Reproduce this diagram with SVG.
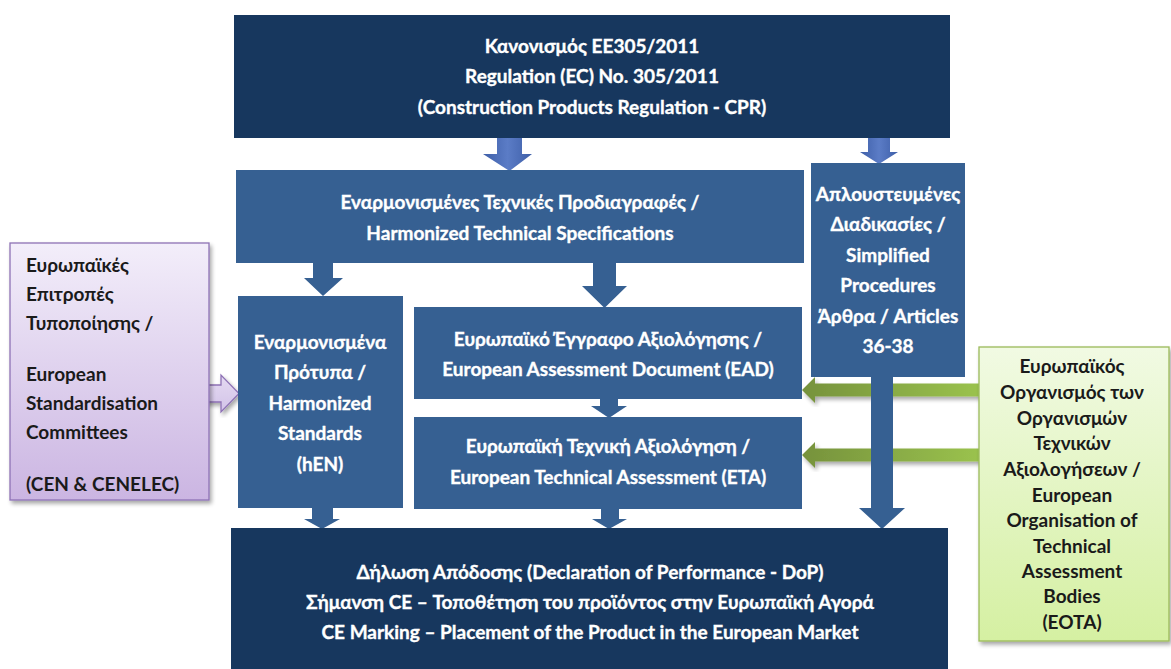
<svg xmlns="http://www.w3.org/2000/svg" width="1171" height="669" viewBox="0 0 1171 669">
<defs>
<linearGradient id="gPurple" x1="0" y1="0" x2="0" y2="1">
<stop offset="0" stop-color="#F3EEFA"/><stop offset="1" stop-color="#CBB5E2"/>
</linearGradient>
<linearGradient id="gGreen" x1="0" y1="0" x2="0" y2="1">
<stop offset="0" stop-color="#F1FAE3"/><stop offset="1" stop-color="#D5F0A2"/>
</linearGradient>
<linearGradient id="gGArrow" x1="0" y1="0" x2="1" y2="0">
<stop offset="0" stop-color="#76923C"/><stop offset="1" stop-color="#9BC34E"/>
</linearGradient>
<linearGradient id="gBArrow" x1="0" y1="0" x2="1" y2="0">
<stop offset="0" stop-color="#3E5FA8"/><stop offset="0.5" stop-color="#5B7CC6"/><stop offset="1" stop-color="#3E5FA8"/>
</linearGradient>
<linearGradient id="gPArrow" x1="0" y1="0" x2="0" y2="1">
<stop offset="0" stop-color="#E4DAF2"/><stop offset="1" stop-color="#D3C3E8"/>
</linearGradient>
<filter id="sh" x="-10%" y="-10%" width="125%" height="125%">
<feGaussianBlur in="SourceAlpha" stdDeviation="2"/>
<feOffset dx="2" dy="3" result="b"/>
<feComponentTransfer><feFuncA type="linear" slope="0.35"/></feComponentTransfer>
<feMerge><feMergeNode/><feMergeNode in="SourceGraphic"/></feMerge>
</filter>
</defs>
<style>
.dark{fill:#17375E}
.mid{fill:#366092}
.wt{font-family:Lato,"Open Sans","Liberation Sans",sans-serif;font-weight:bold;font-size:19px;fill:#FFFFFF;stroke:#FFFFFF;stroke-width:0.35;text-anchor:middle}
.bt{font-family:Lato,"Open Sans","Liberation Sans",sans-serif;font-weight:bold;font-size:19px;fill:#1A1A1A}
.ctr{text-anchor:middle}
.barrow{fill:#366092}
</style>
<rect width="1171" height="669" fill="#FFFFFF"/>

<g id="connectors">
<polygon fill="url(#gBArrow)" points="497,138 522,138 522,154 532,154 509.5,171 483,154 497,154"/>
<polygon fill="url(#gBArrow)" points="868,138 890,138 890,152 898,152 879,164 860,152 868,152"/>
<polygon class="barrow" points="313,263 333,263 333,278 343,278 323,296 304,278 313,278"/>
<polygon class="barrow" points="593,263 616,263 616,286 627,286 604.5,308 582,286 593,286"/>
<polygon class="barrow" points="600,399 618,399 618,406 627,406 609,418 591,406 600,406"/>
<polygon class="barrow" points="312,508 333,508 333,519 340,519 322,529 304,519 312,519"/>
<polygon class="barrow" points="601,509 619,509 619,519 627,519 609,529 592,519 601,519"/>
<polygon fill="url(#gPArrow)" stroke="#8E72B5" stroke-width="1.3" filter="url(#sh)" points="205,385 221,385 221,375 239,393.5 221,412 221,402 205,402"/>
<polygon fill="url(#gGArrow)" filter="url(#sh)" points="982,383.5 815,383.5 815,377 802,390 815,403 815,396.5 982,396.5"/>
<polygon fill="url(#gGArrow)" filter="url(#sh)" points="982,448.5 815,448.5 815,442 802,455 815,468 815,461.5 982,461.5"/>
<polygon class="barrow" points="871,376 893,376 893,508 905,508 882,529 859,508 871,508"/>
</g>

<g id="n-regulation">
<rect class="dark" x="234" y="15" width="716" height="123"/>
<text class="wt" x="592" y="53">Κανονισμός ΕΕ305/2011</text>
<text class="wt" x="592" y="83">Regulation (EC) No. 305/2011</text>
<text class="wt" x="592" y="114">(Construction Products Regulation - CPR)</text>
</g>

<g id="n-hts">
<rect class="mid" x="236" y="170" width="568" height="93"/>
<text class="wt" x="520" y="209">Εναρμονισμένες Τεχνικές Προδιαγραφές /</text>
<text class="wt" x="520" y="240">Harmonized Technical Specifications</text>
</g>

<g id="n-simplified">
<rect class="mid" x="811" y="163" width="154" height="214"/>
<text class="wt" x="888" y="201">Απλουστευμένες</text>
<text class="wt" x="888" y="231">Διαδικασίες /</text>
<text class="wt" x="888" y="262">Simplified</text>
<text class="wt" x="888" y="292">Procedures</text>
<text class="wt" x="888" y="323">Άρθρα / Articles</text>
<text class="wt" x="888" y="353">36-38</text>
</g>

<g id="n-hen">
<rect class="mid" x="238" y="296" width="165" height="212"/>
<text class="wt" x="320" y="349">Εναρμονισμένα</text>
<text class="wt" x="320" y="379">Πρότυπα /</text>
<text class="wt" x="320" y="410">Harmonized</text>
<text class="wt" x="320" y="440">Standards</text>
<text class="wt" x="320" y="471">(hEN)</text>
</g>

<g id="n-ead">
<rect class="mid" x="414" y="307" width="388" height="92"/>
<text class="wt" x="608" y="346">Ευρωπαϊκό Έγγραφο Αξιολόγησης /</text>
<text class="wt" x="608" y="376">European Assessment Document (EAD)</text>
</g>

<g id="n-eta">
<rect class="mid" x="414" y="417" width="388" height="92"/>
<text class="wt" x="608" y="453">Ευρωπαϊκή Τεχνική Αξιολόγηση /</text>
<text class="wt" x="608" y="484">European Technical Assessment (ETA)</text>
</g>

<g id="n-dop">
<rect class="dark" x="231" y="528" width="717" height="141"/>
<text class="wt" x="590" y="579">Δήλωση Απόδοσης (Declaration of Performance - DoP)</text>
<text class="wt" x="590" y="609">Σήμανση CE – Τοποθέτηση του προϊόντος στην Ευρωπαϊκή Αγορά</text>
<text class="wt" x="590" y="639">CE Marking – Placement of the Product in the European Market</text>
</g>

<g id="n-cen">
<rect x="10" y="243" width="199" height="257" fill="url(#gPurple)" stroke="#8E72B5" stroke-width="1.3" filter="url(#sh)"/>
<text class="bt" x="26" y="272">Ευρωπαϊκές</text>
<text class="bt" x="26" y="301">Επιτροπές</text>
<text class="bt" x="26" y="330">Τυποποίησης /</text>
<text class="bt" x="26" y="381">European</text>
<text class="bt" x="26" y="410">Standardisation</text>
<text class="bt" x="26" y="439">Committees</text>
<text class="bt" x="26" y="491">(CEN &amp; CENELEC)</text>
</g>

<g id="n-eota">
<rect x="979" y="347" width="190" height="294" fill="url(#gGreen)" stroke="#9BBB59" stroke-width="1.3" filter="url(#sh)"/>
<text class="bt ctr" x="1072" y="373">Ευρωπαϊκός</text>
<text class="bt ctr" x="1072" y="399">Οργανισμός των</text>
<text class="bt ctr" x="1072" y="425">Οργανισμών</text>
<text class="bt ctr" x="1072" y="450">Τεχνικών</text>
<text class="bt ctr" x="1072" y="476">Αξιολογήσεων /</text>
<text class="bt ctr" x="1072" y="502">European</text>
<text class="bt ctr" x="1072" y="527">Organisation of</text>
<text class="bt ctr" x="1072" y="553">Technical</text>
<text class="bt ctr" x="1072" y="578">Assessment</text>
<text class="bt ctr" x="1072" y="603">Bodies</text>
<text class="bt ctr" x="1072" y="629">(EOTA)</text>
</g>
</svg>
